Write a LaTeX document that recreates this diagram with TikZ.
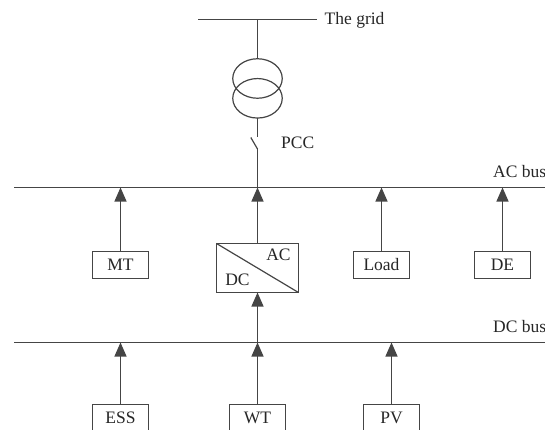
\documentclass[tikz,border=0pt]{standalone}
\usepackage{fontspec}
\setmainfont{Liberation Serif}
\usetikzlibrary{positioning,arrows.meta,shapes.geometric,calc}
\definecolor{ink}{HTML}{454545}
\tikzset{
  lin/.style  = {draw=ink, line width=1.2pt},
  ar/.style   = {lin, -{Triangle[length=14pt, width=12pt]}},
  blk/.style  = {lin, align=center, inner sep=0pt, outer sep=0pt,
                 minimum width=56pt, minimum height=27pt},
  coil/.style = {lin, ellipse, inner sep=0pt, outer sep=0pt,
                 minimum width=49.5pt, minimum height=39.5pt},
  lbl/.style  = {inner sep=0pt, anchor=west},
}

\begin{document}
\begin{tikzpicture}[x=1pt, y=-1pt, font=\fontsize{17.5}{20}\selectfont, text=black!85]
  \useasboundingbox (0,0) rectangle (545,430);

  % --- buses ---
  \coordinate (gridl) at (198,19.5);
  \coordinate (gridr) at (316.5,19.5);
  \coordinate (grid)  at (257.5,19.5);
  \coordinate (acl)   at (14,187.5);
  \coordinate (acr)   at (545,187.5);
  \coordinate (dcl)   at (14,342.5);
  \coordinate (dcr)   at (545,342.5);
  \draw[lin] (gridl) -- (gridr);
  \draw[lin] (acl) -- (acr);
  \draw[lin] (dcl) -- (dcr);

  % --- transformer and switch ---
  \node[coil] (xup) at (257.5,78.5) {};
  \node[coil] (xlo) at (257.5,98.3) {};
  \coordinate (swtop) at (257.5,137);
  \coordinate (swa)   at (250.8,137.5);
  \coordinate (swb)   at (257.5,149);
  \draw[lin] (grid) -- (xup.north);
  \draw[lin] (xlo.south) -- (swtop);
  \draw[lin] (swa) -- (swb);
  \draw[lin] (swb) -- (swb |- acl);

  % --- sources and loads ---
  \node[blk] (mt)   at (120.5,265)   {MT};
  \node[blk] (load) at (381.5,265) {Load};
  \node[blk] (de)   at (502.5,265) {DE};
  \node[blk] (ess)  at (120.5,418)   {ESS};
  \node[blk] (wt)   at (257.5,418) {WT};
  \node[blk] (pv)   at (391.5,418) {PV};

  % --- converter ---
  \node[blk, minimum width=82pt, minimum height=49pt] (conv) at (257.5,268) {};
  \draw[lin] (conv.north west) -- (conv.south east);
  \node[inner sep=0pt] (convac) at (278.5,255) {AC};
  \node[inner sep=0pt] (convdc) at (237.5,279.5) {DC};

  % --- arrows up to the buses ---
  \draw[ar] (mt.north) -- (mt |- acl);
  \draw[ar] (conv.north) -- (conv |- acl);
  \draw[ar] (load.north) -- (load |- acl);
  \draw[ar] (de.north) -- (de |- acl);
  \draw[ar] (ess.north) -- (ess |- dcl);
  \draw[ar] (wt.north) -- (wt |- dcl);
  \draw[ar] (pv.north) -- (pv |- dcl);
  \draw[ar] (wt |- dcl) -- (conv.south);

  % --- labels ---
  \node[lbl] (gridlbl) at (324.5,20.5) {The grid};
  \node[lbl] (pcclbl)  at (281,143) {PCC};
  \node[lbl] (aclbl)   at (493,172) {AC bus};
  \node[lbl] (dclbl)   at (493,327) {DC bus};
\end{tikzpicture}
\end{document}
